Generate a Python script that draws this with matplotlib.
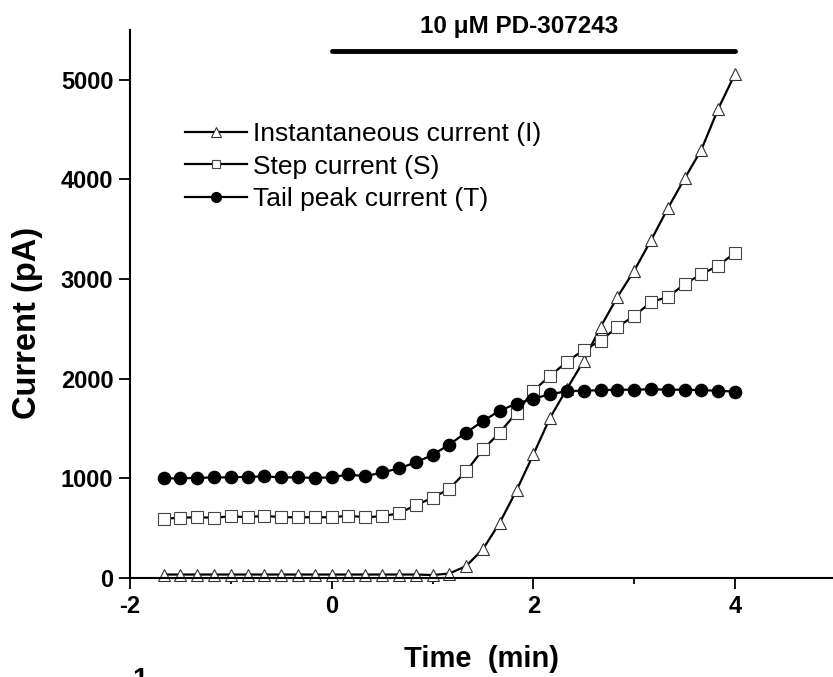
"""
Current vs time after application of 10 uM PD-307243:
instantaneous, step and tail peak currents.
"""

import numpy as np
import matplotlib
matplotlib.use("Agg")
import matplotlib.pyplot as plt
from matplotlib.ticker import MultipleLocator

plt.rcParams['font.family'] = ['Liberation Sans', 'DejaVu Sans']
plt.rcParams['axes.unicode_minus'] = False

# Sampling times, one sweep every 10 s (seconds, drug applied at t = 0)
time_s = [-100, -90, -80, -70, -60, -50, -40, -30, -20, -10, 0,
          10, 20, 30, 40, 50, 60, 70, 80, 90, 100,
          110, 120, 130, 140, 150, 160, 170, 180, 190, 200,
          210, 220, 230, 240]

# Instantaneous current (I), pA
inst_current = [35, 35, 35, 35, 35, 35, 35, 35, 35, 35, 35,
                35, 35, 35, 35, 35, 30, 45, 120, 290, 555,
                880, 1240, 1610, 1900, 2180, 2520, 2820, 3085, 3390, 3710,
                4010, 4300, 4710, 5060]

# Step current (S), pA
step_current = [595, 605, 610, 605, 620, 610, 625, 610, 610, 610, 610,
                625, 610, 620, 650, 730, 805, 895, 1070, 1290, 1460,
                1660, 1880, 2030, 2170, 2290, 2380, 2520, 2630, 2770, 2820,
                2950, 3050, 3135, 3265]

# Tail peak current (T), pA
tail_current = [1000, 1000, 1005, 1010, 1010, 1015, 1020, 1010, 1010, 1005, 1010,
                1040, 1020, 1060, 1100, 1160, 1235, 1340, 1460, 1575, 1680,
                1750, 1800, 1845, 1875, 1880, 1885, 1890, 1890, 1895, 1890,
                1890, 1885, 1880, 1870]

series_labels = ["Instantaneous current (I)", "Step current (S)", "Tail peak current (T)"]

drug_label = "10 \u03bcM PD-307243"
drug_on, drug_off = 0, 4  # min

t = np.array(time_s) / 60.0

fig = plt.figure(figsize=(8.33, 6.77), dpi=100)
ax = fig.add_axes([0.156, 0.1462, 0.8475, 0.8095])

ax.plot(t, inst_current, color='black', lw=1.6, marker='^', ms=8.5,
        mfc='white', mec='#333333', mew=0.8, clip_on=False, label=series_labels[0])
ax.plot(t, step_current, color='black', lw=1.6, marker='s', ms=8,
        mfc='white', mec='#444444', mew=0.8, clip_on=False, label=series_labels[1])
ax.plot(t, tail_current, color='black', lw=1.6, marker='o', ms=8.8,
        mfc='black', mec='black', clip_on=False, label=series_labels[2])

# drug application bar
ax.plot([drug_on, drug_off], [5290, 5290], color='black', lw=3.5,
        solid_capstyle='round', clip_on=False)
ax.text(1.86, 5540, drug_label, ha='center', va='center',
        fontsize=17.5, fontweight='bold')

ax.set_xlim(-2, 5)
ax.set_ylim(0, 5500)
ax.xaxis.set_major_locator(MultipleLocator(2))
ax.xaxis.set_minor_locator(MultipleLocator(1))
ax.yaxis.set_major_locator(MultipleLocator(1000))

for side in ['top', 'right']:
    ax.spines[side].set_visible(False)
for side in ['left', 'bottom']:
    ax.spines[side].set_linewidth(1.5)

ax.tick_params(which='major', direction='out', length=8, width=1.3)
ax.tick_params(which='minor', direction='out', length=4.5, width=1.3)
ax.tick_params(axis='x', which='major', pad=4)
ax.tick_params(axis='y', which='major', pad=4)
for lab in ax.get_xticklabels() + ax.get_yticklabels():
    lab.set_fontsize(17)
    lab.set_fontweight('bold')

fig.text(28 / 833, (677 - 323) / 677, "Current (pA)", rotation=90, ha='center',
         va='center', fontsize=23.5, fontweight='bold')
fig.text(481 / 833, (677 - 659) / 677, "Time  (min)", ha='center', va='center',
         fontsize=21, fontweight='bold')

# top of the next panel's label, cut by the bottom edge as in the source
fig.text(140 / 833, 10 / 677, "1", ha='center', va='top',
         fontsize=20, fontweight='bold')

ax.legend(loc='upper left', bbox_to_anchor=(185 / 833, (677 - 122) / 677),
          bbox_transform=fig.transFigure, frameon=False, fontsize=19,
          borderpad=0, borderaxespad=0, handlelength=2.35, handletextpad=0.22,
          labelspacing=0.33, markerscale=0.8)

fig.savefig("out.png", dpi=100)
